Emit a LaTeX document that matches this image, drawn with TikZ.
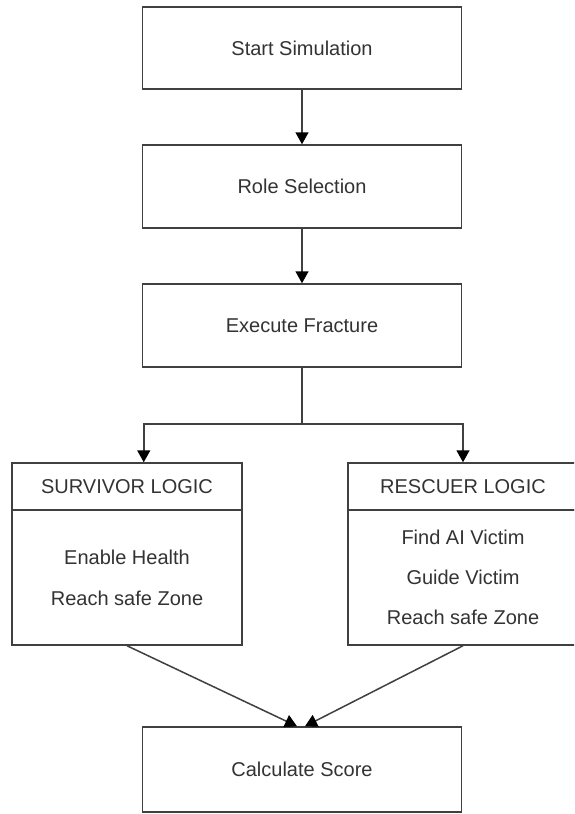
\documentclass[tikz,border=0pt]{standalone}
\usepackage{fontspec}
\setmainfont{Liberation Sans}
\usetikzlibrary{arrows.meta}
\tikzset{
  boxnode/.style={draw=black!75, line width=1.5pt, rectangle, inner sep=0pt,
    text=black!80, font=\fontsize{20}{24}\selectfont, align=center},
  arr/.style={draw=black!75, line width=1.5pt,
    -{Triangle[width=13pt,length=12pt,color=black,fill=black]}},
  plain/.style={draw=black!75, line width=1.5pt}
}
\begin{document}
\begin{tikzpicture}[x=1pt,y=-1pt]
\clip (0,0) rectangle (574,814);
\fill[white] (0,0) rectangle (574,814);

\node[boxnode, minimum width=319pt, minimum height=82pt] (start) at (302,48) {Start Simulation};
\node[boxnode, minimum width=319pt, minimum height=83pt] (role) at (302,186.5) {Role Selection};
\node[boxnode, minimum width=319pt, minimum height=83pt] (exec) at (302,325.5) {Execute Fracture};

\node[boxnode, minimum width=230pt, minimum height=47pt] (survhead) at (127,486.5) {SURVIVOR LOGIC};
\node[boxnode, minimum width=230pt, minimum height=135pt] (survbody) at (127,577.5)
  {Enable Health\\[17pt]Reach safe Zone};

\node[boxnode, minimum width=230pt, minimum height=47pt] (reschead) at (463,486.5) {RESCUER LOGIC};
\node[boxnode, minimum width=230pt, minimum height=135pt] (rescbody) at (463,577.5)
  {Find AI Victim\\[16pt]Guide Victim\\[16pt]Reach safe Zone};

\node[boxnode, minimum width=319pt, minimum height=85pt] (calc) at (302,769.5) {Calculate Score};

\draw[arr] (start) -- (role);
\draw[arr] (role) -- (exec);

\coordinate (split) at ([yshift=-56pt]exec.south);
\draw[plain] (exec.south) -- (split);
\draw[arr] (split) -| ([xshift=2pt]survhead.north -| exec.south west);
\draw[arr] (split) -| (reschead.north);

\draw[arr] (survbody.south) -- ([xshift=-5pt]calc.north);
\draw[arr] (rescbody.south) -- ([xshift=3pt]calc.north);
\end{tikzpicture}
\end{document}
